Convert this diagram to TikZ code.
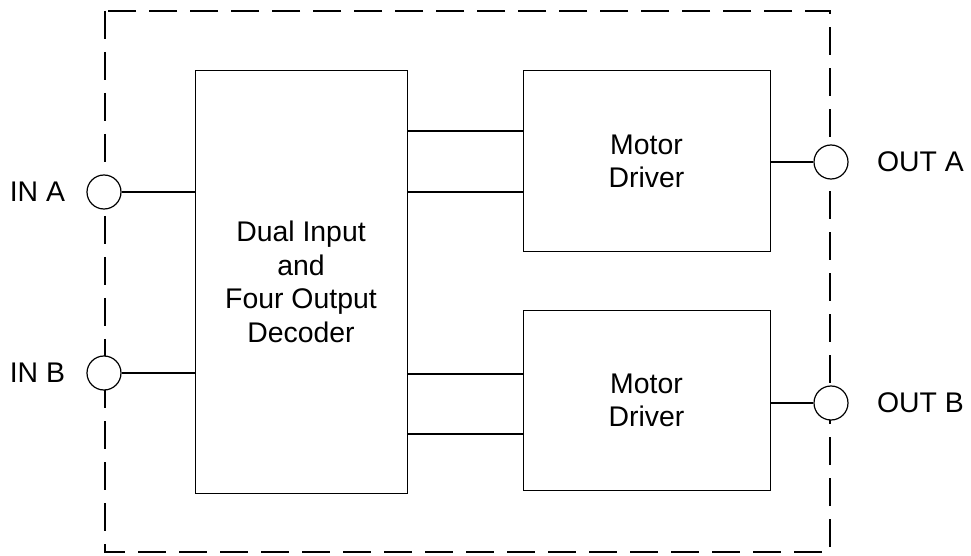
\documentclass[tikz,border=0pt]{standalone}
\usepackage{fontspec}
\setmainfont{Liberation Sans}
\usetikzlibrary{positioning}

\begin{document}
\begin{tikzpicture}[x=0.5pt, y=-0.5pt,
  every node/.style={font=\fontsize{14.2}{16.8}\selectfont},
  block/.style={draw, line width=0.5pt, align=center, inner sep=0pt},
  port/.style={circle, draw, fill=white, line width=0.6pt, minimum size=17pt, inner sep=0pt},
  lbl/.style={inner sep=0pt},
  wire/.style={line width=0.6pt}]
  \useasboundingbox (0,0) rectangle (971,556);

  % enclosure
  \draw[line width=1.4pt, dash pattern=on 14pt off 6.5pt] (105,11) rectangle (830,552);

  % blocks
  \node[block, minimum width=106pt, minimum height=211pt] (decoder) at (301,282)
    {Dual Input\\and\\Four Output\\Decoder};
  \node[block, minimum width=123.5pt, minimum height=90.5pt] (drvA) at (646.5,161.5)
    {Motor\\Driver};
  \node[block, minimum width=123.5pt, minimum height=89.5pt] (drvB) at (646.5,400.5)
    {Motor\\Driver};

  % ports
  \node[port] (inA)  at (104,192) {};
  \node[port] (inB)  at (104,373) {};
  \node[port] (outA) at (831,162) {};
  \node[port] (outB) at (831,403) {};
  \node[lbl, left=10.5pt of inA]   {IN A};
  \node[lbl, left=10.5pt of inB]   {IN B};
  \node[lbl, right=14pt of outA] {OUT A};
  \node[lbl, right=14pt of outB] {OUT B};

  % wires
  \draw[wire] (inA) -- (inA -| decoder.west);
  \draw[wire] (inB) -- (inB -| decoder.west);
  \coordinate (a1) at ([yshift=15.25pt]drvA.west);
  \coordinate (a2) at ([yshift=-15.25pt]drvA.west);
  \coordinate (b1) at ([yshift=13.25pt]drvB.west);
  \coordinate (b2) at ([yshift=-16.75pt]drvB.west);
  \draw[wire] (decoder.east |- a1) -- (a1);
  \draw[wire] (decoder.east |- a2) -- (a2);
  \draw[wire] (decoder.east |- b1) -- (b1);
  \draw[wire] (decoder.east |- b2) -- (b2);
  \draw[wire] (outA -| drvA.east) -- (outA);
  \draw[wire] (outB -| drvB.east) -- (outB);
\end{tikzpicture}
\end{document}
